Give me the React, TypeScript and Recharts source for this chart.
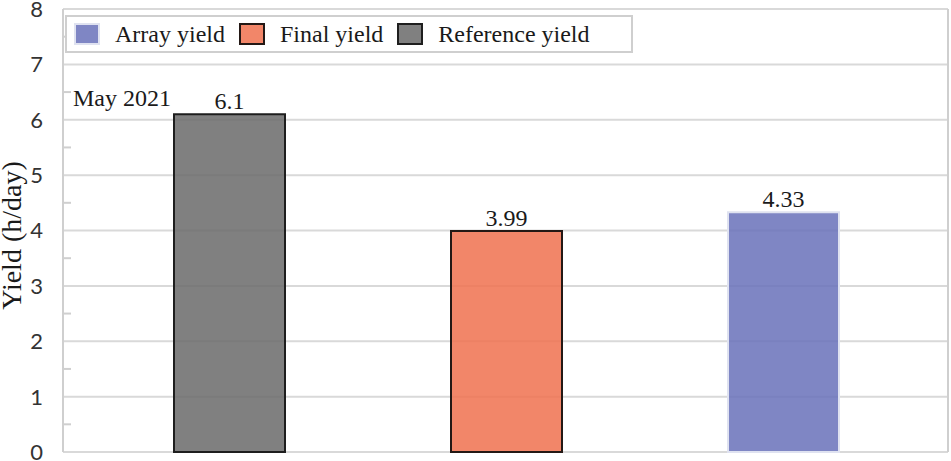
import React from 'react';
import { BarChart, Bar, XAxis, YAxis, CartesianGrid, Cell, LabelList } from 'recharts';

// ---- data ----
const categories = ['Reference yield', 'Final yield', 'Array yield'];
const yieldValues = [6.1, 3.99, 4.33];
const legendOrder = ['Array yield', 'Final yield', 'Reference yield'];
const majorTicks = [0, 1, 2, 3, 4, 5, 6, 7, 8];
const allTicks = [0, 0.5, 1, 1.5, 2, 2.5, 3, 3.5, 4, 4.5, 5, 5.5, 6, 6.5, 7, 7.5, 8];
const periodLabel = 'May 2021';
const yAxisTitle = 'Yield (h/day)';

// ---- styles ----
const SERIF = '"Liberation Serif", "Times New Roman", serif';
const SANS = 'Lato, "Open Sans", sans-serif';
const BAR_OPACITY = 0.85;
const styleByCategory: Record<string, { fill: string; stroke: string; strokeWidth: number }> = {
  'Reference yield': { fill: '#6a6a6a', stroke: '#1e1e1e', strokeWidth: 2 },
  'Final yield': { fill: '#f0714f', stroke: '#231815', strokeWidth: 2 },
  'Array yield': { fill: '#6871ba', stroke: '#dfe2f0', strokeWidth: 2 },
};

const data = categories.map((name, i) => ({ name, value: yieldValues[i] }));

const isMajor = (v: number) => Math.abs(v - Math.round(v)) < 1e-9;

const LeftTick = (props: any) => {
  const { x, y, payload } = props;
  const v = payload.value;
  if (isMajor(v)) {
    return (
      <text x={x} y={y} dy="0.36em" textAnchor="end" fill="#333" fontSize={22} fontFamily={SANS}>
        {v}
      </text>
    );
  }
  return <line x1={x + 20} x2={x + 28} y1={y} y2={y} stroke="#cfcfcf" strokeWidth={2} />;
};

const RightTick = (props: any) => {
  const { x, y, payload } = props;
  if (isMajor(payload.value)) return <g />;
  return <line x1={x - 8} x2={x} y1={y} y2={y} stroke="#cfcfcf" strokeWidth={2} />;
};

const YTitle = (props: any) => {
  const vb = props.viewBox || { x: 0, y: 0, width: 0, height: 0 };
  const cx = vb.x + 21;
  const cy = vb.y + vb.height / 2 + 5;
  return (
    <text
      x={cx}
      y={cy}
      transform={`rotate(-90, ${cx}, ${cy})`}
      textAnchor="middle"
      fill="#1a1a1a"
      fontSize={28}
      fontFamily={SERIF}
    >
      {yAxisTitle}
    </text>
  );
};

const LegendBox = () => (
  <div
    style={{
      position: 'absolute',
      left: 65,
      top: 15,
      width: 568,
      height: 38,
      boxSizing: 'border-box',
      border: '2px solid #cfcfcf',
      background: '#fff',
      display: 'flex',
      alignItems: 'center',
      paddingLeft: 7,
      fontFamily: SERIF,
      fontSize: 24,
      color: '#1a1a1a',
      whiteSpace: 'nowrap',
    }}
  >
    {legendOrder.map((name) => {
      const s = styleByCategory[name];
      return (
        <div key={name} style={{ display: 'flex', alignItems: 'center', marginRight: 14 }}>
          <svg width={26} height={22} style={{ marginRight: 15 }}>
            <rect
              x={1}
              y={1}
              width={24}
              height={20}
              fill={s.fill}
              fillOpacity={BAR_OPACITY}
              stroke={s.stroke}
              strokeWidth={s.strokeWidth}
            />
          </svg>
          <span style={{ lineHeight: '24px' }}>{name}</span>
        </div>
      );
    })}
  </div>
);

export default function App() {
  return (
    <div style={{ position: 'absolute', left: 0, top: 0, width: 951, height: 461, background: '#fff' }}>
      <BarChart width={951} height={461} data={data} margin={{ top: 9, right: 0, bottom: 9, left: 0 }}>
        <CartesianGrid vertical={false} horizontalValues={majorTicks} stroke="#d9d9d9" strokeWidth={2} />
        <XAxis
          dataKey="name"
          tick={false}
          tickLine={false}
          height={0}
          axisLine={{ stroke: '#d0d0d0', strokeWidth: 2 }}
          padding={{ left: 28, right: 26 }}
        />
        <YAxis
          domain={[0, 8]}
          ticks={allTicks}
          interval={0}
          width={63}
          tickSize={0}
          tickMargin={20}
          tickLine={false}
          axisLine={{ stroke: '#cfcfcf', strokeWidth: 2 }}
          tick={LeftTick}
          label={{ content: YTitle }}
        />
        <YAxis
          yAxisId="right"
          orientation="right"
          domain={[0, 8]}
          ticks={allTicks}
          interval={0}
          width={3}
          tickSize={0}
          tickMargin={0}
          tickLine={false}
          axisLine={{ stroke: '#cfcfcf', strokeWidth: 2 }}
          tick={RightTick}
        />
        <Bar dataKey="value" barSize={111} isAnimationActive={false}>
          {data.map((d) => {
            const s = styleByCategory[d.name];
            return (
              <Cell
                key={d.name}
                fill={s.fill}
                fillOpacity={BAR_OPACITY}
                stroke={s.stroke}
                strokeWidth={s.strokeWidth}
              />
            );
          })}
          <LabelList
            dataKey="value"
            position="top"
            offset={5}
            fill="#1a1a1a"
            fillOpacity={1}
            fontSize={24}
            fontFamily={SERIF}
          />
        </Bar>
      </BarChart>
      <LegendBox />
      <div
        style={{
          position: 'absolute',
          left: 73,
          top: 86,
          fontFamily: SERIF,
          fontSize: 24,
          lineHeight: '24px',
          color: '#1a1a1a',
          whiteSpace: 'nowrap',
        }}
      >
        {periodLabel}
      </div>
    </div>
  );
}
